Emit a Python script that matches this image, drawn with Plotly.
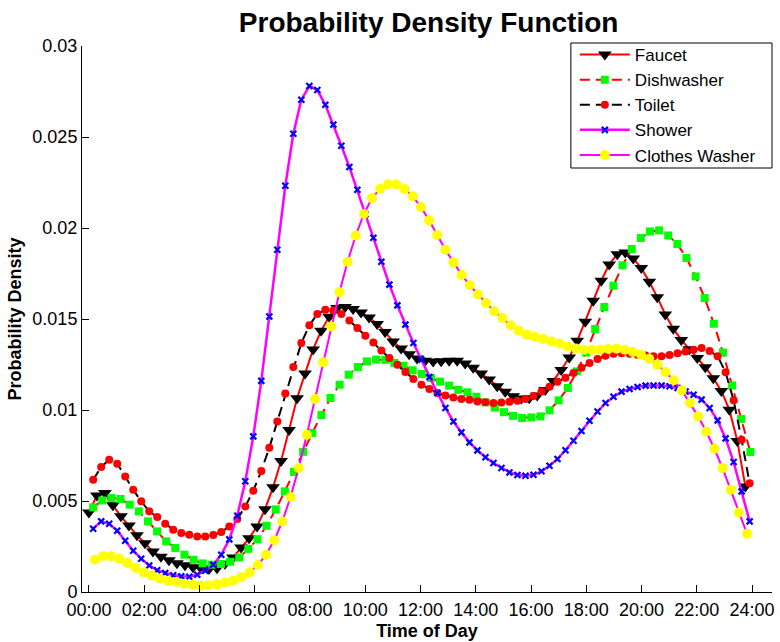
import numpy as np
import plotly.graph_objects as go

# ---- sampling grids (hours of day) ----
FAUCET_T0, SHOWER_T0, TOILET_T0, DISH_T0, WASH_T0 = 0.0, 0.155, 0.155, 0.155, 0.216
STEP_A, STEP_DISH, STEP_WASH = 0.2897, 0.3303, 0.295

faucet = [0.00437, 0.0053, 0.00544, 0.00476, 0.00416, 0.00365, 0.00312, 0.00268, 0.00222, 0.00194,
          0.00175, 0.00158, 0.00147, 0.00136, 0.0013, 0.00127, 0.0013, 0.00155, 0.0019, 0.00245,
          0.00295, 0.0036, 0.00455, 0.00575, 0.0072, 0.0089, 0.01065, 0.012, 0.01333, 0.01435,
          0.01512, 0.0156, 0.01566, 0.01555, 0.01536, 0.01508, 0.01473, 0.01428, 0.01376, 0.01338,
          0.01306, 0.01283, 0.0127, 0.01267, 0.01268, 0.0127, 0.0127, 0.01255, 0.01232, 0.012,
          0.01167, 0.01131, 0.011, 0.01075, 0.01063, 0.01064, 0.0108, 0.0111, 0.0116, 0.0122,
          0.01288, 0.0138, 0.01485, 0.016, 0.0171, 0.018, 0.01856, 0.01865, 0.01833, 0.0178,
          0.01705, 0.0162, 0.01525, 0.01447, 0.01385, 0.01334, 0.01286, 0.01235, 0.01175, 0.01105,
          0.01002, 0.0083, 0.0058]

dishwasher = [0.00465, 0.00503, 0.00516, 0.00511, 0.0048, 0.00443, 0.00388, 0.00333, 0.00278, 0.00242,
              0.00205, 0.00177, 0.00157, 0.0015, 0.00154, 0.00166, 0.0019, 0.00237, 0.0029, 0.00364,
              0.00454, 0.00553, 0.0066, 0.0077, 0.00874, 0.00972, 0.01066, 0.01139, 0.01194, 0.01236,
              0.01267, 0.01277, 0.01276, 0.01259, 0.01243, 0.01218, 0.01198, 0.01176, 0.01156, 0.01134,
              0.01111, 0.01097, 0.01073, 0.01042, 0.01013, 0.00988, 0.00968, 0.00956, 0.00959, 0.00965,
              0.00998, 0.01053, 0.01121, 0.01212, 0.01316, 0.01445, 0.01566, 0.01683, 0.01795, 0.01885,
              0.01945, 0.01981, 0.01987, 0.01959, 0.01912, 0.01835, 0.01734, 0.01615, 0.01474, 0.01316,
              0.01135, 0.00951, 0.00769]

toilet = [0.00617, 0.00687, 0.00727, 0.00705, 0.00635, 0.00562, 0.00498, 0.00443, 0.00412, 0.00375,
          0.00342, 0.00324, 0.00315, 0.00305, 0.00305, 0.00313, 0.0033, 0.0036, 0.00401, 0.0047,
          0.00557, 0.00665, 0.00793, 0.00937, 0.0109, 0.01236, 0.01368, 0.01465, 0.01527, 0.01551,
          0.01547, 0.01527, 0.01492, 0.0145, 0.01408, 0.01371, 0.01327, 0.01286, 0.01249, 0.01209,
          0.0117, 0.01139, 0.01115, 0.01093, 0.0108, 0.01069, 0.0106, 0.01057, 0.01047, 0.01042,
          0.01038, 0.01041, 0.01045, 0.01051, 0.01061, 0.01077, 0.01102, 0.01128, 0.01155, 0.01177,
          0.01203, 0.01232, 0.01258, 0.0128, 0.01298, 0.01309, 0.01312, 0.01309, 0.01304, 0.013,
          0.01296, 0.01296, 0.01302, 0.01312, 0.01322, 0.01331, 0.01341, 0.01324, 0.01296, 0.01207,
          0.01053, 0.00837, 0.00597]

shower = [0.00348, 0.00388, 0.00375, 0.00337, 0.00282, 0.00227, 0.00183, 0.00146, 0.00119, 0.00104,
          0.00092, 0.00086, 0.00084, 0.00095, 0.00117, 0.0015, 0.00205, 0.00289, 0.00419, 0.00609,
          0.00855, 0.0116, 0.01514, 0.01881, 0.02232, 0.02518, 0.02705, 0.0278, 0.02758, 0.02677,
          0.02568, 0.02452, 0.02335, 0.0221, 0.02075, 0.01946, 0.01815, 0.01689, 0.01575, 0.01469,
          0.01368, 0.01276, 0.01181, 0.01093, 0.01011, 0.00937, 0.00877, 0.00822, 0.00778, 0.0074,
          0.00709, 0.00681, 0.00657, 0.00643, 0.00639, 0.00644, 0.00663, 0.00694, 0.00731, 0.00779,
          0.00831, 0.00885, 0.00941, 0.00992, 0.01038, 0.01073, 0.01101, 0.01115, 0.01126, 0.01134,
          0.01135, 0.01135, 0.0113, 0.01121, 0.01102, 0.01084, 0.01057, 0.01011, 0.00943, 0.00844,
          0.00714, 0.00553, 0.00388]

clothes_washer = [0.00177, 0.00196, 0.00196, 0.00183, 0.00159, 0.00132, 0.00108, 0.0009, 0.00073, 0.00062,
                  0.00055, 0.00046, 0.0004, 0.00035, 0.00037, 0.00042, 0.00052, 0.00063, 0.00081, 0.00108,
                  0.00148, 0.00205, 0.00284, 0.00388, 0.00522, 0.00681, 0.00864, 0.0106, 0.01262, 0.01459,
                  0.01647, 0.01815, 0.01959, 0.02077, 0.02164, 0.02216, 0.02241, 0.02239, 0.02214, 0.02174,
                  0.02115, 0.02042, 0.01962, 0.01881, 0.01811, 0.01742, 0.01685, 0.01635, 0.01588, 0.01542,
                  0.01505, 0.01465, 0.01437, 0.01414, 0.01401, 0.0139, 0.01377, 0.01366, 0.01349, 0.01338,
                  0.01331, 0.0133, 0.01331, 0.01335, 0.01337, 0.01331, 0.01319, 0.01304, 0.01282, 0.01249,
                  0.01209, 0.01163, 0.01108, 0.01038, 0.00965, 0.00882, 0.00787, 0.00681, 0.00562, 0.00437,
                  0.0032]

x_tickvals = [0, 2, 4, 6, 8, 10, 12, 14, 16, 18, 20, 22, 24]
x_ticktext = ["00:00", "02:00", "04:00", "06:00", "08:00", "10:00", "12:00",
              "14:00", "16:00", "18:00", "20:00", "22:00", "24:00"]
y_tickvals = [0, 0.005, 0.01, 0.015, 0.02, 0.025, 0.03]
y_ticktext = ["0", "0.005", "0.01", "0.015", "0.02", "0.025", "0.03"]


def grid(t0, step, n):
    return np.round(t0 + step * np.arange(n), 4)


FONT = "Liberation Sans, Arial, sans-serif"
DASH = "10px,6px"

fig = go.Figure()
fig.add_trace(go.Scatter(
    x=grid(FAUCET_T0, STEP_A, len(faucet)), y=faucet, name="Faucet", mode="lines+markers",
    line=dict(color="#FF0000", width=2),
    marker=dict(symbol="triangle-down", size=12, color="#000000", line=dict(width=0))))
fig.add_trace(go.Scatter(
    x=grid(DISH_T0, STEP_DISH, len(dishwasher)), y=dishwasher, name="Dishwasher", mode="lines+markers",
    line=dict(color="#FF0000", width=2, dash=DASH),
    marker=dict(symbol="square", size=8, color="#00FF00", line=dict(width=0))))
fig.add_trace(go.Scatter(
    x=grid(TOILET_T0, STEP_A, len(toilet)), y=toilet, name="Toilet", mode="lines+markers",
    line=dict(color="#000000", width=2, dash=DASH),
    marker=dict(symbol="circle", size=8, color="#FF0000", line=dict(width=0))))
fig.add_trace(go.Scatter(
    x=grid(SHOWER_T0, STEP_A, len(shower)), y=shower, name="Shower", mode="lines+markers",
    line=dict(color="#FF00FF", width=2.5),
    marker=dict(symbol="x-thin-open", size=6, color="#0000FF", line=dict(width=2.2, color="#0000FF"))))
fig.add_trace(go.Scatter(
    x=grid(WASH_T0, STEP_WASH, len(clothes_washer)), y=clothes_washer, name="Clothes Washer",
    mode="lines+markers",
    line=dict(color="#FF00FF", width=2),
    marker=dict(symbol="circle", size=10, color="#FFFF00", line=dict(width=0))))

# legend frame (pixel -> paper conversion of plot area 82..775 x 46..592)
fig.add_shape(type="rect", xref="paper", yref="paper",
              x0=(573 - 82) / 693, x1=1.0, y0=(592 - 168) / 546, y1=(592 - 43) / 546,
              line=dict(color="black", width=1), fillcolor="white", layer="above")

fig.update_layout(
    width=780, height=642,
    margin=dict(l=82, r=5, t=46, b=50),
    paper_bgcolor="white", plot_bgcolor="white",
    font=dict(family=FONT, size=18, color="black"),
    title=dict(text="<b>Probability Density Function</b>", x=0.5495, xanchor="center",
               y=0.966, yanchor="middle", yref="container",
               font=dict(family=FONT, size=28, color="black")),
    showlegend=True,
    legend=dict(x=(577 - 82) / 693, xanchor="left", y=1 + 9 / 546, yanchor="top",
                bgcolor="rgba(0,0,0,0)", borderwidth=0,
                font=dict(family=FONT, size=17, color="black"),
                tracegroupgap=0, itemwidth=50),
    xaxis=dict(range=[-0.25, 24.72], tickvals=x_tickvals, ticktext=x_ticktext,
               showline=True, linecolor="black", linewidth=1, mirror=False,
               ticks="inside", ticklen=7, tickcolor="black", showgrid=False, zeroline=False,
               tickfont=dict(family=FONT, size=18), ticklabelstandoff=1,
               title=dict(text="<b>Time of Day</b>", standoff=5, font=dict(family=FONT, size=18))),
    yaxis=dict(range=[0, 0.03], tickvals=y_tickvals, ticktext=y_ticktext,
               showline=True, linecolor="black", linewidth=1, mirror=False,
               ticks="inside", ticklen=7, tickcolor="black", showgrid=False, zeroline=False,
               tickfont=dict(family=FONT, size=18),
               title=dict(text="<b>Probability Density</b>", standoff=6, font=dict(family=FONT, size=18))),
)

fig.write_html("out.html")
